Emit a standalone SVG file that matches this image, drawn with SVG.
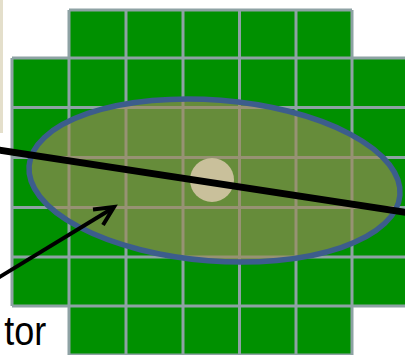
<svg xmlns="http://www.w3.org/2000/svg" width="405" height="355" viewBox="0 0 405 355">
  <style>
    .cell { fill: #009000; }
    .gl { stroke: #8ea2a4; stroke-width: 3; fill: none; }
    .conn { stroke: #000; fill: none; stroke-linecap: butt; }
    .lbl { font-family: "Liberation Sans", Arial, sans-serif; font-size: 40px; fill: #000; }
  </style>
  <rect x="0" y="0" width="405" height="355" fill="#ffffff"/>
  <rect x="0" y="0" width="3" height="133" fill="#e4dfcb"/>
  <g id="grid">
    <polygon class="cell" points="69,10 352,10 352,58 410,58 410,306 352,306 352,360 69,360 69,306 12,306 12,58 69,58"/>
    <path class="gl" d="M69,10 H352 M12,58 H410 M12,107.5 H410 M12,157.5 H410 M12,207.5 H410 M12,257 H410 M12,306 H410 M69,355 H352
      M12,58 V306 M69,10 V360 M126,10 V360 M183,10 V360 M239.5,10 V360 M296,10 V360 M352,10 V360"/>
  </g>
  <g id="ellipse">
    <ellipse cx="214.5" cy="180.5" rx="186" ry="80.5" transform="rotate(4.5 214.5 180.5)" fill="#9d8a59" fill-opacity="0.65" stroke="#3c5d8c" stroke-width="5.5"/>
  </g>
  <g id="circle">
    <circle cx="212" cy="180" r="22" fill="#c9c09b"/>
  </g>
  <g id="connectors">
    <line class="conn" x1="-2" y1="150" x2="407" y2="212.5" stroke-width="7"/>
    <line class="conn" x1="-2" y1="278" x2="113" y2="208" stroke-width="4"/>
    <polyline class="conn" points="93,209.5 114,207 103,225" stroke-width="4" stroke-linejoin="miter"/>
  </g>
  <g id="label">
    <text class="lbl" x="51.5" y="345" text-anchor="end" transform="scale(0.9 1)">tor</text>
  </g>
</svg>
